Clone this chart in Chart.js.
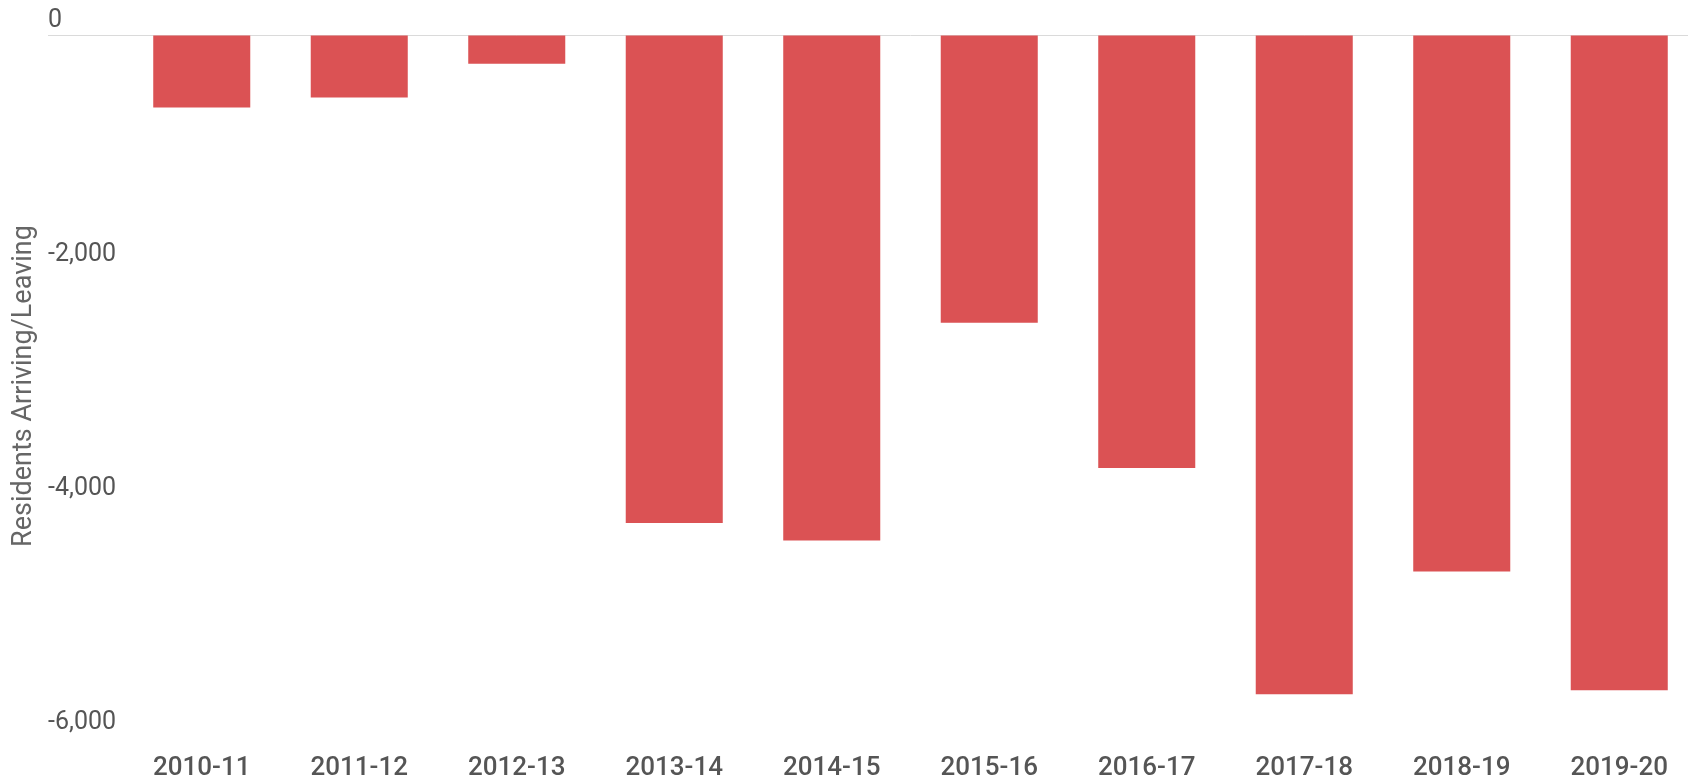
<!DOCTYPE html>
<html>
<head>
<meta charset="utf-8">
<script src="https://cdn.jsdelivr.net/npm/chart.js@4.4.0/dist/chart.umd.min.js"></script>
<style>
  html, body { margin: 0; padding: 0; background: #fff; overflow: hidden; }
  #wrap { width: 1698px; height: 778px; }
</style>
</head>
<body>
<div id="wrap"><canvas id="myChart"></canvas></div>
<script>
// net residents arriving/leaving per financial year
var years = ['2010-11', '2011-12', '2012-13', '2013-14', '2014-15',
             '2015-16', '2016-17', '2017-18', '2018-19', '2019-20'];
var residents = [-620, -535, -245, -4170, -4320, -2460, -3700, -5635, -4585, -5600];
var yTicks = [0, -2000, -4000, -6000];

var zeroLine = function(c) {
   return c.tick && c.tick.value === 0 ? '#dadada' : 'rgba(0,0,0,0)';
};

var ctx = document.getElementById('myChart').getContext('2d');
var chart = new Chart(ctx, {
   type: 'bar',
   data: {
      labels: years,
      datasets: [{
         data: residents,
         backgroundColor: '#db5254',
         borderWidth: 0,
         categoryPercentage: 1,
         barPercentage: 0.616
      }]
   },
   options: {
      responsive: true,
      maintainAspectRatio: false,
      animation: false,
      layout: { padding: { top: 35, left: 0, right: 0, bottom: 0 } },
      plugins: {
         legend: { display: false },
         tooltip: { enabled: false }
      },
      scales: {
         x: {
            grid: { display: false },
            border: { display: false },
            ticks: {
               color: '#555',
               font: { family: 'Roboto', size: 26, weight: '500' },
               padding: 8,
               maxRotation: 0,
               autoSkip: false
            },
            afterFit: function(s) { s.height = 41; }
         },
         y: {
            min: -6000,
            max: 0,
            afterBuildTicks: function(s) {
               s.ticks = yTicks.map(function(v) { return { value: v }; });
            },
            grid: {
               color: zeroLine,
               tickColor: zeroLine,
               lineWidth: 1,
               drawTicks: true,
               tickLength: 75
            },
            border: { display: false },
            ticks: {
               mirror: true,
               padding: -75,
               labelOffset: -14,
               color: '#555',
               font: { family: 'Roboto', size: 25 }
            },
            title: {
               display: true,
               text: 'Residents Arriving/Leaving',
               color: '#666',
               font: { family: 'Roboto', size: 27 },
               padding: { top: 8, bottom: 0 }
            },
            afterFit: function(s) { s.width = 123; }
         }
      }
   }
});
</script>
</body>
</html>
